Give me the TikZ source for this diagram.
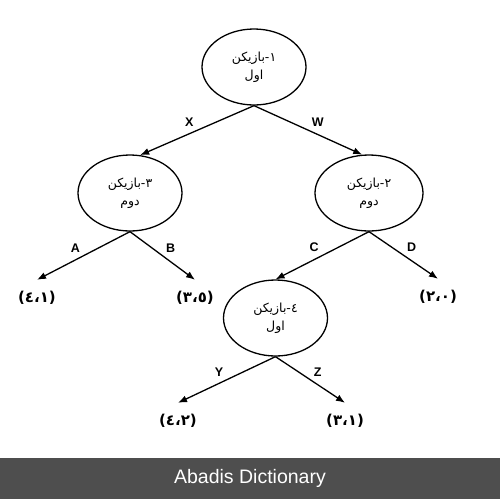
\documentclass[tikz,border=0pt]{standalone}
\usepackage{fontspec}
\setmainfont{Liberation Sans}
\newfontfamily\arabicfont[Script=Arabic]{DejaVu Sans}
\TeXXeTstate=1
\usetikzlibrary{arrows.meta,shapes.geometric}
\definecolor{bandgray}{RGB}{78,78,78}
\newcommand{\fa}[1]{\beginR #1\endR}

\begin{document}
\begin{tikzpicture}[x=1pt,y=-1pt,>={Latex[length=9pt,width=7pt]},
  player/.style={draw,line width=1.3pt,ellipse,minimum width=104pt,minimum height=76pt,
    inner sep=0pt,align=center,font=\fontsize{12.5}{18}\selectfont\arabicfont},
  payoff/.style={inner sep=0pt,minimum height=36pt,font=\fontsize{15}{17}\selectfont\bfseries\arabicfont},
  move/.style={font=\fontsize{12.5}{14}\selectfont\bfseries,inner sep=3pt},
  branch/.style={->,line width=1.3pt}]
  % Canvas
  \fill[white] (0,0) rectangle (500,499);
  % Players
  \node[player] (n1) at (254,67) {\fa{١-بازیکن}\\\fa{اول}};
  \node[player] (n3) at (130,193) {\fa{٣-بازیکن}\\\fa{دوم}};
  \node[player,minimum width=108pt] (n2) at (369,193) {\fa{٢-بازیکن}\\\fa{دوم}};
  \node[player] (n4) at (275.5,318) {\fa{٤-بازیکن}\\\fa{اول}};
  % Payoffs
  \node[payoff] (p1) at (37,298) {(٤،١)};
  \node[payoff] (p2) at (195,298) {(٣،٥)};
  \node[payoff] (p3) at (438,297) {(٢،٠)};
  \node[payoff] (p4) at (178,421) {(٤،٢)};
  \node[payoff] (p5) at (345,421) {(٣،١)};
  % Moves
  \draw[branch] (n1.south) -- (n3.75) node[move,midway,above left]{X};
  \draw[branch] (n1.south) -- (n2.100) node[move,midway,above right]{W};
  \draw[branch] (n3.south) -- (p1.north) node[move,midway,above left]{A};
  \draw[branch] (n3.south) -- (p2.north) node[move,midway,above right]{B};
  \draw[branch] (n2.south) -- (n4.north) node[move,midway,above left]{C};
  \draw[branch] (n2.south) -- (p3.north) node[move,midway,above right]{D};
  \draw[branch] (n4.south) -- (p4.north) node[move,midway,above left]{Y};
  \draw[branch] (n4.south) -- (p5.north) node[move,midway,above right]{Z};
  % Banner
  \fill[bandgray] (0,458) rectangle (500,499);
  \node[text=white,font=\fontsize{19.5}{22}\selectfont] (title) at (250,478.5) {Abadis Dictionary};
\end{tikzpicture}
\end{document}
